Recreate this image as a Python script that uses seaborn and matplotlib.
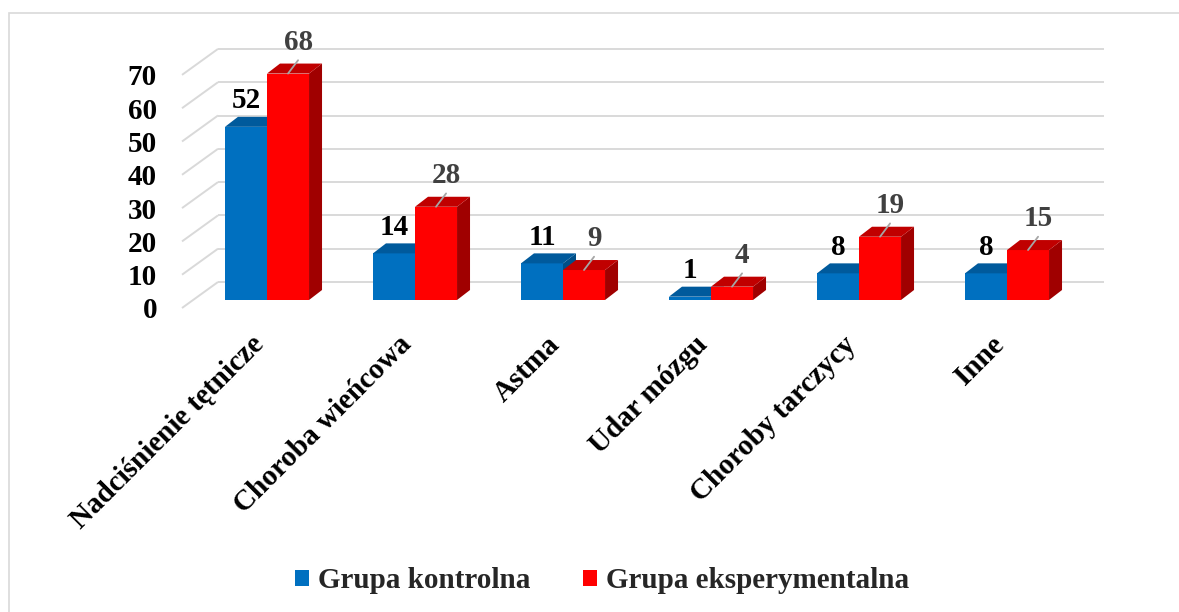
import matplotlib
matplotlib.use("Agg")
import matplotlib.pyplot as plt
import numpy as np
import pandas as pd
import seaborn as sns
from matplotlib.patches import Polygon, Patch, Rectangle

# --- data -------------------------------------------------------------
kategorie = ["Nadciśnienie tętnicze", "Choroba wieńcowa", "Astma",
             "Udar mózgu", "Choroby tarczycy", "Inne"]
grupy = ["Grupa kontrolna", "Grupa eksperymentalna"]
kontrolna = [52, 14, 11, 1, 8, 8]
eksperymentalna = [68, 28, 9, 4, 19, 15]
os_y = [0, 10, 20, 30, 40, 50, 60, 70]

df = pd.DataFrame({
    "kategoria": kategorie * 2,
    "grupa": [grupy[0]] * len(kategorie) + [grupy[1]] * len(kategorie),
    "liczba": kontrolna + eksperymentalna,
})

# --- style ------------------------------------------------------------
sns.set_theme(style="white")
plt.rcParams["font.family"] = ["Liberation Serif", "DejaVu Serif"]
plt.rcParams["font.weight"] = "bold"
FS = 21

BLUE, BLUE_TOP, BLUE_SIDE = "#0070C0", "#005A9C", "#004F88"
RED, RED_TOP, RED_SIDE = "#FF0000", "#C00000", "#A00000"
GRID = "#D9D9D9"

W, H = 1179, 612
fig = plt.figure(figsize=(W / 100, H / 100), dpi=100)
ax = fig.add_axes([0, 0, 1, 1])

sns.barplot(data=df, x="kategoria", y="liczba", hue="grupa",
            order=kategorie, hue_order=grupy, palette=[BLUE, RED],
            width=0.568, saturation=1, legend=False, errorbar=None,
            edgecolor="none", linewidth=0, ax=ax)

# pixel layout: category centre / bar base and scale
X0, DX = 267, 148
Y0, DY = 300, 3.33
ax.set_xlim(-X0 / DX, (W - X0) / DX)
ax.set_ylim(-(H - Y0) / DY, Y0 / DY)
ax.axis("off")

# 3-D depth of the bars and of the chart walls (in data units)
ddx, ddy = 13 / DX, 10 / DY
front_dy, back_dy = -8 / DY, 18 / DY
x_front, x_back, x_end = (182 - X0) / DX, (218 - X0) / DX, (1104 - X0) / DX

# back wall gridlines + side wall diagonals
for v in os_y:
    ax.plot([x_front, x_back], [v + front_dy, v + back_dy],
            color=GRID, lw=1.4, zorder=1, solid_capstyle="butt")
    ax.plot([x_back, x_end], [v + back_dy, v + back_dy],
            color=GRID, lw=1.4, zorder=1, solid_capstyle="butt")
    ax.text((157 - X0) / DX, v + front_dy, str(v), ha="right",
            va="center_baseline", fontsize=FS, fontweight="bold",
            color="black")

# top and side faces for every bar
faces = [(BLUE_TOP, BLUE_SIDE, 3), (RED_TOP, RED_SIDE, 5)]
for cont, (c_top, c_side, z) in zip(ax.containers, faces):
    for r in cont:
        x, w, h = r.get_x(), r.get_width(), r.get_height()
        r.set_zorder(z)
        ax.add_patch(Polygon([(x + w, 0), (x + w + ddx, ddy),
                              (x + w + ddx, h + ddy), (x + w, h)],
                             closed=True, fc=c_side, ec="none", zorder=z))
        ax.add_patch(Polygon([(x, h), (x + w, h), (x + w + ddx, h + ddy),
                              (x + ddx, h + ddy)],
                             closed=True, fc=c_top, ec="none", zorder=z))

# value labels
for r, v in zip(ax.containers[0], kontrolna):
    cx = r.get_x() + r.get_width() / 2
    ax.text(cx, v + 5.6, str(v), ha="center", va="baseline",
            fontsize=FS, fontweight="bold", color="black", zorder=6)

for r, v in zip(ax.containers[1], eksperymentalna):
    cx = r.get_x() + r.get_width() / 2
    ax.plot([cx, cx + 0.068], [v, v + 4.0], color="#A6A6A6", lw=1.3,
            zorder=7)
    ax.text(cx + 0.068, v + 7.2, str(v), ha="center", va="baseline",
            fontsize=FS, fontweight="bold", color="#404040", zorder=6)

# category labels
for i, k in enumerate(kategorie):
    ax.text(i - 17 / DX, (Y0 - 331) / DY, k, ha="right", va="top",
            rotation=45, rotation_mode="anchor", fontsize=FS,
            fontweight="bold", color="black")

# legend
fig.legend(handles=[Patch(fc=BLUE, ec="none"), Patch(fc=RED, ec="none")],
           labels=grupy, loc="center", bbox_to_anchor=(602 / W, 1 - 581 / H),
           ncol=2, frameon=False, fontsize=FS, handlelength=0.5,
           handleheight=0.5, handletextpad=0.3, columnspacing=1.8)

# chart frame
fig.add_artist(Rectangle((8.5 / W, -0.05), 1.2, 1 - 13 / H + 0.05,
                         transform=fig.transFigure, fill=False, ec=GRID,
                         lw=1.2))

fig.savefig("out.png", dpi=100)
